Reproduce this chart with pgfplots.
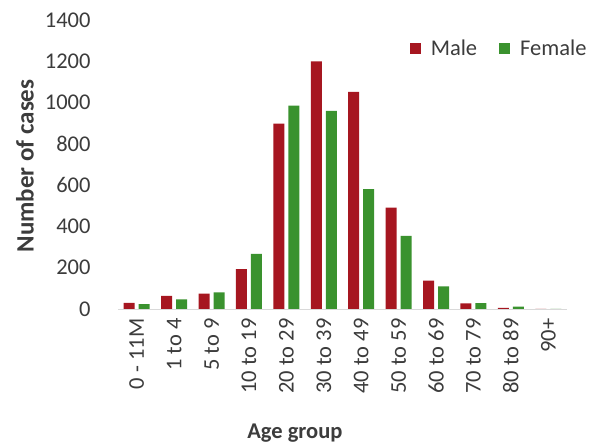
\documentclass[border=0pt]{standalone}
\usepackage{fontspec}
\setmainfont{Carlito}
\usepackage{pgfplots}
\pgfplotsset{compat=1.18}
\definecolor{male}{RGB}{166,22,32}
\definecolor{female}{RGB}{58,146,46}
\definecolor{txt}{RGB}{60,60,60}
\definecolor{axisgray}{RGB}{217,217,217}
\begin{document}
\begin{tikzpicture}
\path[use as bounding box] (0,0) rectangle (604pt,443pt);
\begin{axis}[
  at={(118pt,134pt)}, anchor=south west,
  scale only axis, width=449pt, height=289pt,
  ybar=4pt, bar width=11pt,
  xmin=-0.5, xmax=11.5, ymin=0, ymax=1400,
  ytick={0,200,...,1400},
  xtick={0,...,11},
  xticklabels={0 - 11M, 1 to 4, 5 to 9, 10 to 19, 20 to 29, 30 to 39, 40 to 49, 50 to 59, 60 to 69, 70 to 79, 80 to 89, 90+},
  axis x line*=bottom, axis y line*=left,
  x axis line style={draw=axisgray, line width=0.8pt},
  y axis line style={draw=none},
  major tick length=0pt,
  /pgf/number format/assume math mode=true,
  /pgf/number format/1000 sep={},
  tick label style={font=\fontsize{22.5}{27}\selectfont, text=txt},
  x tick label style={yshift=-6pt, rotate=90, anchor=east},
  yticklabel style={xshift=-24pt},
  xlabel={Age group}, ylabel={Number of cases},
  xlabel style={font=\fontsize{22.5}{27}\selectfont\bfseries, text=txt,
    at={(axis description cs:0.394,-0.43)}, anchor=center},
  ylabel style={font=\fontsize{25}{30}\selectfont\bfseries, text=txt,
    at={(axis description cs:-0.207,0.495)}, anchor=center},
  every axis plot post/.append style={legend image code/.code={\fill[##1,draw=none] (0pt,-5.5pt) rectangle (11pt,5.5pt); \path (19pt,0pt);}},
  legend columns=2,
  legend style={draw=none, fill=none, at={(1.055,0.90)}, anchor=east,
    font=\fontsize{22.5}{27}\selectfont, text=txt,
    /tikz/every even column/.append style={column sep=20pt}},
]
\addplot[fill=male, draw=none] coordinates {(0,30) (1,63) (2,74) (3,193) (4,898) (5,1200) (6,1052) (7,491) (8,137) (9,27) (10,5) (11,0)};
\addplot[fill=female, draw=none] coordinates {(0,24) (1,47) (2,80) (3,267) (4,985) (5,960) (6,581) (7,354) (8,110) (9,29) (10,12) (11,0)};
\legend{Male, Female}
\end{axis}
\end{tikzpicture}
\end{document}
